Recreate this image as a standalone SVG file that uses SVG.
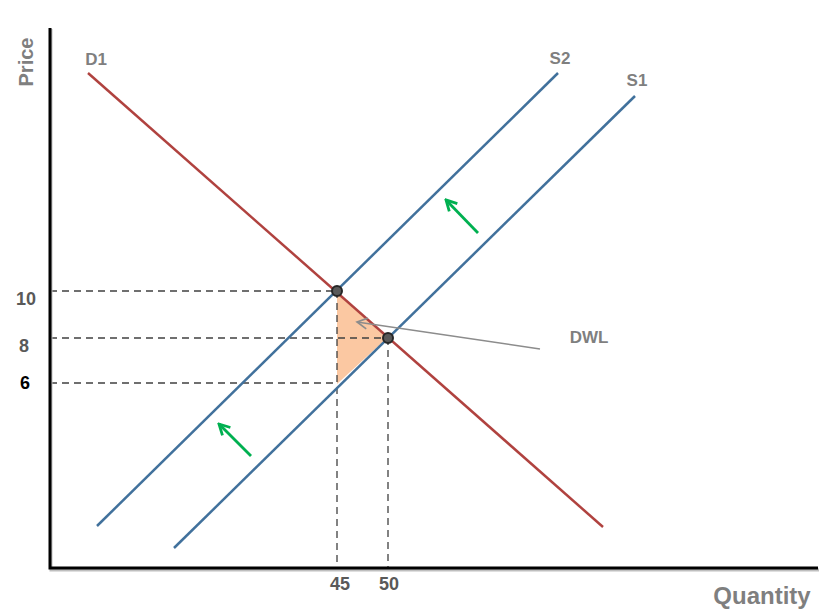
<svg xmlns="http://www.w3.org/2000/svg" width="834" height="609" viewBox="0 0 834 609">
<defs>
<style>
.lbl{font-family:"Liberation Sans",Arial,sans-serif;font-weight:bold;fill:#7f7f7f}
.num{font-family:"Liberation Sans",Arial,sans-serif;font-weight:bold;font-size:18px;fill:#595959;text-anchor:middle}
.dash{stroke:#404040;stroke-width:1.3;stroke-dasharray:7,5;fill:none}
.dem{stroke:#b0423f;stroke-width:2.5;fill:none}
.sup{stroke:#41719c;stroke-width:2.5;fill:none}
.grn{stroke:#00b050;stroke-width:2.8;fill:none}
.pt{fill:#595959;stroke:#262626;stroke-width:2}
</style>
<marker id="ga" viewBox="0 0 10 10" refX="8.5" refY="5" markerWidth="5" markerHeight="5" orient="auto">
<path d="M1,1 L8.5,5 L1,9" fill="none" stroke="#00b050" stroke-width="2"/>
</marker>
<marker id="da" viewBox="0 0 10 10" refX="8.5" refY="5" markerWidth="9" markerHeight="9" orient="auto">
<path d="M1,1 L8.5,5 L1,9" fill="none" stroke="#8c8c8c" stroke-width="1.2"/>
</marker>
</defs>
<rect width="834" height="609" fill="#ffffff"/>
<g id="dwl-area">
<polygon points="337,292 387,338 337,384" fill="#fbc8a2"/>
</g>
<g id="guides">
<line class="dash" x1="50" y1="291" x2="337" y2="291"/>
<line class="dash" x1="50" y1="338" x2="388" y2="338"/>
<line class="dash" x1="50" y1="383" x2="337" y2="383"/>
<line class="dash" x1="337" y1="291" x2="337" y2="568"/>
<line class="dash" x1="388" y1="338" x2="388" y2="568"/>
</g>
<g id="axes">
<polyline points="51,29 51,570 819,570" fill="none" stroke="#bfbfbf" stroke-width="3"/>
<polyline points="50,28 50,568 818,568" fill="none" stroke="#000000" stroke-width="3"/>
</g>
<g id="D1">
<line class="dem" x1="88" y1="73" x2="603" y2="527"/>
<text class="lbl" x="96" y="65" font-size="17" text-anchor="middle">D1</text>
</g>
<g id="S2">
<line class="sup" x1="97" y1="526" x2="558" y2="73"/>
<text class="lbl" x="560" y="64" font-size="17" text-anchor="middle">S2</text>
</g>
<g id="S1">
<line class="sup" x1="174" y1="548" x2="635" y2="96"/>
<text class="lbl" x="637" y="86" font-size="17" text-anchor="middle">S1</text>
</g>
<g id="connectors">
<line class="grn" x1="478" y1="233" x2="446" y2="200" marker-end="url(#ga)"/>
<line class="grn" x1="251" y1="456" x2="219" y2="424" marker-end="url(#ga)"/>
<line x1="540" y1="349" x2="357" y2="322" stroke="#8c8c8c" stroke-width="1.5" marker-end="url(#da)"/>
</g>
<g id="points">
<circle class="pt" cx="337" cy="291" r="5"/>
<circle class="pt" cx="388" cy="338" r="5"/>
</g>
<g id="labels">
<text class="lbl" x="0" y="0" font-size="20" text-anchor="middle" transform="translate(33,62) rotate(-90)">Price</text>
<text class="lbl" x="762" y="604" font-size="24" text-anchor="middle">Quantity</text>
<text class="lbl" x="589" y="343" font-size="17" text-anchor="middle">DWL</text>
<text class="num" x="26" y="305">10</text>
<text class="num" x="24" y="352">8</text>
<text class="num" x="25" y="389" style="fill:#000">6</text>
<text class="num" x="340" y="590">45</text>
<text class="num" x="389" y="590">50</text>
</g>
</svg>
